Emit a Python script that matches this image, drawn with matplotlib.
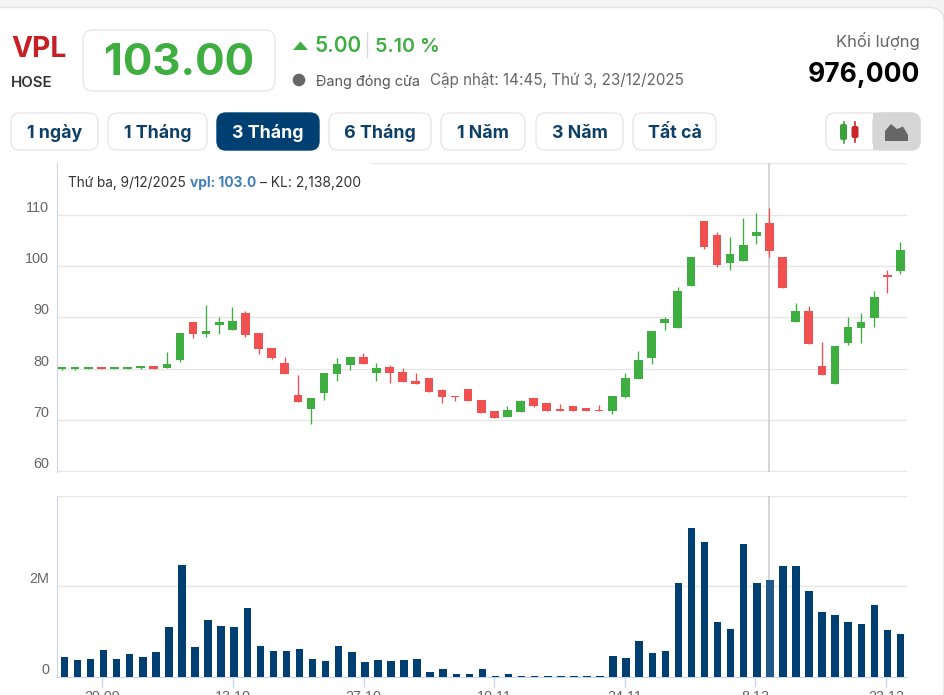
import matplotlib
matplotlib.use('Agg')
import matplotlib.pyplot as plt
from matplotlib.patches import FancyBboxPatch, Rectangle, Polygon, Circle

plt.rcParams['font.family'] = ['Inter', 'DejaVu Sans']

# candles, 65 sessions
opens = [79.9, 80.0, 80.0, 80.3, 80.0, 80.0, 80.2, 80.6, 80.1, 81.6,
         89.1, 86.7, 88.6, 87.6, 90.75, 86.9, 84.0, 81.1, 74.8, 72.1,
         75.25, 78.9, 80.64, 82.3, 79.15, 80.4, 79.4, 77.65, 78.2, 75.8,
         74.7, 76.0, 74.0, 71.8, 70.65, 71.6, 74.3, 73.3, 72.1, 72.8,
         72.35, 72.05, 71.8, 74.55, 78.0, 82.1, 88.9, 87.9, 96.2, 108.8,
         106.1, 100.55, 101.05, 105.9, 108.4, 101.8, 89.1, 91.3, 80.6, 76.95,
         85.0, 87.9, 89.85, 98.15, 99.1]
closes = [80.3, 80.3, 80.3, 80.0, 80.3, 80.3, 80.6, 79.95, 81.0, 86.9,
          86.7, 87.4, 89.1, 89.3, 86.5, 83.75, 82.05, 78.9, 73.5, 74.3,
          79.1, 80.85, 82.3, 80.84, 80.05, 79.15, 77.46, 76.95, 75.5, 74.55,
          74.55, 73.8, 71.4, 70.4, 72.05, 73.75, 72.8, 71.8, 71.8, 71.8,
          71.8, 71.8, 74.75, 78.2, 81.75, 87.4, 89.6, 95.2, 101.7, 103.7,
          100.1, 102.25, 104.1, 106.6, 102.9, 95.75, 91.3, 84.8, 78.75, 84.5,
          88.1, 89.1, 93.9, 97.9, 103.2]
highs = [80.3, 80.3, 80.3, 80.3, 80.3, 80.3, 80.6, 80.6, 83.3, 86.9,
         89.1, 92.5, 90.1, 92.05, 91.3, 86.9, 84.0, 82.3, 78.7, 74.3,
         79.1, 82.0, 82.3, 83.0, 81.1, 80.65, 80.2, 79.15, 78.2, 75.97,
         74.7, 76.0, 74.0, 71.8, 72.8, 74.0, 74.3, 73.3, 73.05, 72.8,
         72.35, 72.9, 74.75, 79.15, 83.5, 87.4, 90.1, 95.9, 101.7, 108.8,
         106.6, 105.7, 109.3, 110.3, 111.25, 101.8, 92.7, 92.2, 85.2, 84.5,
         90.1, 90.75, 95.2, 99.25, 104.7]
lows = [79.7, 79.7, 80.0, 80.0, 80.0, 80.0, 79.9, 79.95, 80.1, 81.35,
        86.0, 86.2, 86.7, 87.6, 86.2, 82.85, 81.9, 78.9, 73.5, 69.2,
        74.0, 77.7, 79.67, 80.84, 77.7, 77.15, 77.46, 76.95, 75.5, 73.3,
        73.8, 73.8, 71.4, 70.4, 70.65, 71.6, 72.5, 71.8, 71.8, 71.8,
        71.8, 71.8, 71.15, 74.3, 78.0, 80.9, 87.45, 87.9, 96.2, 103.3,
        99.85, 99.2, 101.05, 104.2, 101.8, 95.75, 89.1, 84.8, 78.75, 76.95,
        84.6, 85.0, 88.15, 94.8, 98.4]

# volume in millions
volumes = [0.43, 0.37, 0.40, 0.59, 0.40, 0.51, 0.43, 0.54, 1.10, 2.46,
           0.65, 1.26, 1.13, 1.10, 1.51, 0.68, 0.57, 0.57, 0.62, 0.40,
           0.35, 0.68, 0.54, 0.32, 0.37, 0.35, 0.37, 0.40, 0.10, 0.18,
           0.07, 0.07, 0.16, 0.02, 0.05, 0.02, 0.005, 0.005, 0.02, 0.005,
           0.005, 0.005, 0.45, 0.42, 0.79, 0.53, 0.56, 2.07, 3.28, 2.98,
           1.20, 1.06, 2.93, 2.07, 2.138, 2.45, 2.45, 1.89, 1.42, 1.36,
           1.20, 1.17, 1.59, 1.03, 0.95]

price_ticks = [60, 70, 80, 90, 100, 110, 120]
price_labels = ['60', '70', '80', '90', '100', '110', '']
vol_ticks = [0, 2, 4]
vol_labels = ['0', '2M', '']
date_pos = [3, 13, 23, 33, 43, 53, 63]
date_labels = ['29.09', '13.10', '27.10', '10.11', '24.11', '8.12', '22.12']
hover = 54

GREEN = '#3DAE3F'
RED = '#F05050'
NAVY = '#003F72'
NAVY_LIGHT = '#1F5A8A'
GRID = '#E6E6E6'
AXIS = '#CCD6EB'
CROSS = '#CCCCCC'
W, H = 944, 695

fig = plt.figure(figsize=(W / 100, H / 100), dpi=100, facecolor='white')

# page behind everything: grey strip, white card with a round top right corner
bg = fig.add_axes([0, 0, 1, 1], zorder=-1)
bg.set_xlim(0, W)
bg.set_ylim(H, 0)
bg.axis('off')
bg.add_patch(Rectangle((0, 0), W, 40, fc='#F4F4F4', ec='none'))
bg.add_patch(FancyBboxPatch((-40, 7.5), W + 40, H, boxstyle='round,pad=0,rounding_size=15',
                            fc='white', ec='#E4E4E4', lw=1))


def axes_px(left, top, right, bottom):
    return fig.add_axes([left / W, 1 - bottom / H, (right - left) / W, (bottom - top) / H])


# price pane
ax = axes_px(56.7, 163, 907, 471.7)
ax.set_xlim(-0.41, 64.5)
ax.set_ylim(59.95, 120.05)
ax.set_yticks(price_ticks, price_labels)
ax.grid(axis='y', color=GRID, lw=1)
ax.set_axisbelow(True)
ax.axvline(hover - 0.05, color=CROSS, lw=1.1, zorder=1.5)
for i in range(len(opens)):
    col = GREEN if closes[i] >= opens[i] else RED
    ax.vlines(i, lows[i], highs[i], color=col, lw=0.95, zorder=3)
    ax.bar(i, abs(closes[i] - opens[i]), bottom=min(opens[i], closes[i]),
           width=0.66, color=col, zorder=3)

# volume pane
ax2 = axes_px(56.7, 495.7, 907, 676.7)
ax2.set_xlim(-0.59, 64.5)
ax2.set_ylim(0, 4)
ax2.set_yticks(vol_ticks, vol_labels)
ax2.grid(axis='y', color=GRID, lw=1)
ax2.set_axisbelow(True)
ax2.axvline(hover - 0.08, color=CROSS, lw=1.1, zorder=1.5)
bar_colors = [NAVY_LIGHT if i == hover else NAVY for i in range(len(volumes))]
ax2.bar(range(len(volumes)), volumes, width=0.575, color=bar_colors, zorder=3)
ax2.set_xticks([p - 0.1 for p in date_pos], date_labels)

for a in (ax, ax2):
    a.patch.set_alpha(0)
    for s in ('top', 'right'):
        a.spines[s].set_visible(False)
    a.spines['left'].set_color(AXIS)
    a.spines['bottom'].set_visible(a is ax2)
    a.spines['bottom'].set_color(AXIS)
    a.tick_params(axis='y', length=0, pad=5.6, labelsize=10.4, labelcolor='#666666')
    for lab in a.get_yticklabels():
        lab.set_va('bottom')
        lab.set_family(['Liberation Sans'])
ax.set_xticks([])
ax2.tick_params(axis='x', length=7.5, color=AXIS, width=1, pad=2.2, labelsize=10.4, labelcolor='#666666')
for lab in ax2.get_xticklabels():
    lab.set_family(['Liberation Sans'])

# page furniture in pixel coordinates
ui = fig.add_axes([0, 0, 1, 1], facecolor='none', zorder=5)
ui.set_xlim(0, W)
ui.set_ylim(H, 0)
ui.axis('off')


def box(x0, y0, x1, y1, fc='white', ec='#E8E8E8', r=9, z=2):
    ui.add_patch(FancyBboxPatch((x0, y0), x1 - x0, y1 - y0, boxstyle='round,pad=0,rounding_size=%d' % r,
                                fc=fc, ec=ec, lw=1, zorder=z))


ui.add_patch(Rectangle((57.6, 158), 314, 17, fc='white', ec='none', zorder=1))

ui.text(11, 57.3, 'VPL', color='#C62026', fontsize=20.3, fontweight='bold')
ui.text(11, 87.3, 'HOSE', color='#333333', fontsize=10.8, fontweight='semibold')
box(83, 30, 275, 91, r=10)
ui.text(179, 75, '103.00', color=GREEN, fontsize=31.5, fontweight='bold', ha='center', zorder=3)

ui.add_patch(Polygon([(293, 50), (308, 50), (300.5, 41.5)], fc=GREEN, ec='none'))
ui.text(314, 52.3, '5.00', color=GREEN, fontsize=15, fontweight='semibold')
ui.plot([367, 367], [32, 57], color='#D8D8D8', lw=1)
ui.text(375, 52.3, '5.10 %', color=GREEN, fontsize=14.2, fontweight='semibold')
ui.add_patch(Circle((299, 80), 6.3, fc='#666666', ec='none'))
ui.text(316, 86, 'Đang đóng cửa', color='#555555', fontsize=10.4)
ui.text(430, 85.5, 'Cập nhật: 14:45, Thứ 3, 23/12/2025', color='#666666', fontsize=10.97)

ui.text(919.7, 47.3, 'Khối lượng', color='#666666', fontsize=12, ha='right')
ui.text(919.7, 81.7, '976,000', color='black', fontsize=19, fontweight='bold', ha='right')

buttons = [('1 ngày', 11, 98), ('1 Tháng', 108, 207), ('3 Tháng', 217, 319), ('6 Tháng', 329, 431),
           ('1 Năm', 441, 525), ('3 Năm', 536, 623), ('Tất cả', 633, 716)]
for name, x0, x1 in buttons:
    on = name == '3 Tháng'
    box(x0, 113, x1, 150, fc=NAVY if on else 'white', ec=NAVY if on else '#E8E8E8')
    ui.text((x0 + x1) / 2, 138, name, color='white' if on else '#0E3F66', fontsize=12.8,
            fontweight='bold', ha='center', zorder=3)

# chart type toggle
box(826, 113, 920, 150)
ui.add_patch(FancyBboxPatch((873, 113), 47, 37, boxstyle='round,pad=0,rounding_size=9', fc='#D6D6D6', ec='#D6D6D6', zorder=3))
ui.add_patch(Rectangle((873, 113), 10, 37, fc='#D6D6D6', ec='none', zorder=3))
ui.plot([843.5, 843.5], [122, 143], color='#3DA13A', lw=1.2, zorder=4)
ui.add_patch(FancyBboxPatch((840, 124), 7, 16, boxstyle='round,pad=0,rounding_size=2', fc='#3DA13A', ec='none', zorder=4))
ui.plot([855, 855], [122, 142], color='#C9252B', lw=1.2, zorder=4)
ui.add_patch(FancyBboxPatch((851.5, 126), 7, 12, boxstyle='round,pad=0,rounding_size=2', fc='#C9252B', ec='none', zorder=4))
ui.add_patch(Polygon([(885, 141), (885, 131), (891, 124), (897, 129), (903, 126.5), (908, 135), (908, 141)],
                     fc='#666666', ec='none', zorder=4))

# hover tooltip
ui.text(68, 187.5, 'Thứ ba, 9/12/2025', color='#333333', fontsize=9.8, zorder=3)
ui.text(190, 187.5, 'vpl: 103.0', color='#3F7FB5', fontsize=9.9, fontweight='bold', zorder=3)
ui.text(260, 187.5, '– KL: 2,138,200', color='#333333', fontsize=9.95, zorder=3)

fig.savefig('out.png', dpi=100)
